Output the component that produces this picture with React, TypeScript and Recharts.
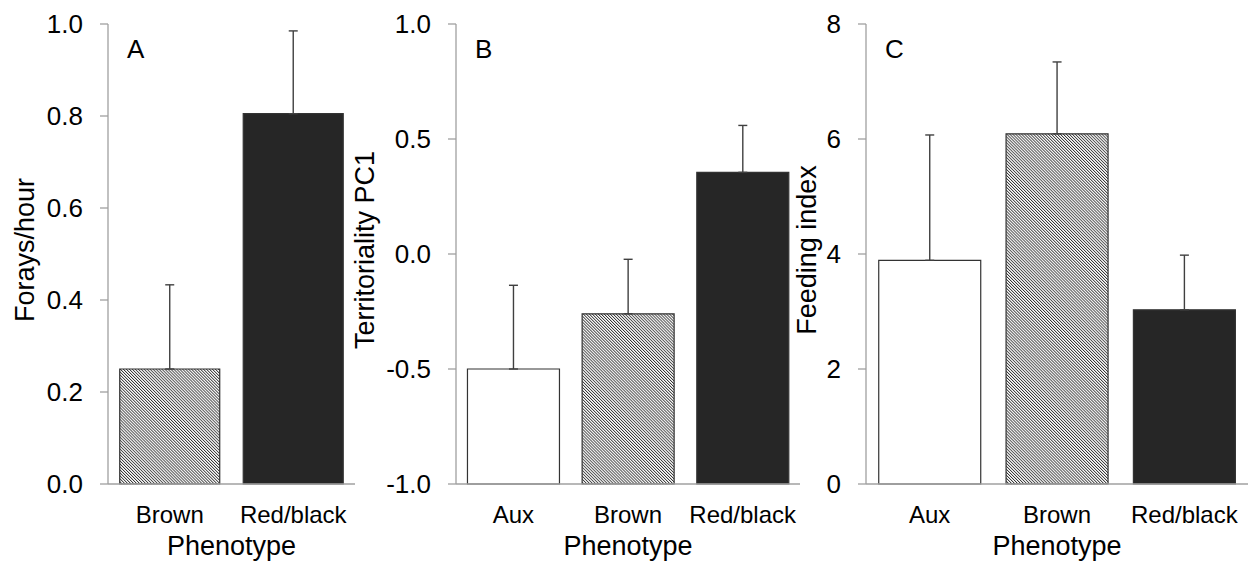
import { BarChart, Bar, XAxis, YAxis, ErrorBar, Cell, Label } from 'recharts';

// Panel A – forays
const A_CATEGORIES = ['Brown', 'Red/black'];
const A_MEANS = [0.25, 0.805];
const A_SE = [0.183, 0.18];
const A_TICKS = [0, 0.2, 0.4, 0.6, 0.8, 1.0];

// Panel B – territoriality (bars drawn up from the axis floor)
const B_CATEGORIES = ['Aux', 'Brown', 'Red/black'];
const B_MEANS = [-0.5, -0.26, 0.355];
const B_SE = [0.364, 0.237, 0.204];
const B_TICKS = [-1.0, -0.5, 0.0, 0.5, 1.0];

// Panel C – feeding
const C_CATEGORIES = ['Aux', 'Brown', 'Red/black'];
const C_MEANS = [3.89, 6.09, 3.03];
const C_SE = [2.18, 1.25, 0.95];
const C_TICKS = [0, 2, 4, 6, 8];

const FILL_BY_PHENOTYPE: Record<string, string> = {
  Aux: '#ffffff',
  Brown: 'url(#hatch)',
  'Red/black': '#262626',
};

const FONT = '"Liberation Sans", Arial, sans-serif';
const AXIS_GREY = '#a0a0a0';
const CHART_H = 567;
const MARGIN_TOP = 24;
const MARGIN_BOTTOM = 12;

interface PanelProps {
  letter: string;
  left: number;
  width: number;
  yAxisWidth: number;
  rightMargin: number;
  labelOffset: number;
  yLabel: string;
  categories: string[];
  means: number[];
  se: number[];
  ticks: number[];
  gap: string;
  decimals: number;
}

const Panel = (p: PanelProps) => {
  const floor = p.ticks[0];
  const rows = p.categories.map((name, i) => ({
    name,
    range: [floor, p.means[i]],
    err: [0, p.se[i]],
  }));
  // category boundaries, where Excel-style ticks sit
  const edges = p.categories.map((_, i) => i).concat(p.categories.length);

  return (
    <div style={{ position: 'absolute', left: p.left, top: 0 }}>
      <BarChart
        width={p.width}
        height={CHART_H}
        data={rows}
        barCategoryGap={p.gap}
        margin={{ top: MARGIN_TOP, right: p.rightMargin, bottom: MARGIN_BOTTOM, left: 0 }}
      >
        <XAxis
          xAxisId='a'
          type='number'
          domain={[0, p.categories.length]}
          ticks={edges}
          tick={false}
          tickSize={8}
          height={1}
          stroke={AXIS_GREY}
          strokeWidth={1.3}
          allowDataOverflow
        />
        <XAxis
          xAxisId='b'
          dataKey='name'
          type='category'
          axisLine={false}
          tickLine={false}
          tickSize={8}
          tickMargin={13}
          height={70}
          interval={0}
          tick={{ fill: '#000', fontSize: 24, fontFamily: FONT }}
        >
          <Label
            value='Phenotype'
            position='insideBottom'
            offset={0}
            style={{ fill: '#000', fontSize: 27, fontFamily: FONT }}
          />
        </XAxis>
        <YAxis
          type='number'
          domain={[p.ticks[0], p.ticks[p.ticks.length - 1]]}
          ticks={p.ticks}
          interval={0}
          width={p.yAxisWidth}
          tickSize={8}
          tickMargin={17}
          stroke={AXIS_GREY}
          strokeWidth={1.3}
          tickFormatter={(v: number) => v.toFixed(p.decimals)}
          tick={{ fill: '#000', fontSize: 26, fontFamily: FONT }}
        >
          <Label
            value={p.yLabel}
            angle={-90}
            position='insideLeft'
            offset={p.labelOffset}
            dy={-4}
            style={{ textAnchor: 'middle', fill: '#000', fontSize: 27, fontFamily: FONT }}
          />
        </YAxis>
        <Bar
          xAxisId='b'
          dataKey='range'
          stroke='#333'
          strokeWidth={1.2}
          isAnimationActive={false}
        >
          {rows.map((r) => (
            <Cell key={r.name} fill={FILL_BY_PHENOTYPE[r.name]} />
          ))}
          <ErrorBar
            dataKey='err'
            direction='y'
            width={4.5}
            stroke='#404040'
            strokeWidth={1.4}
            isAnimationActive={false}
          />
        </Bar>
      </BarChart>
      <div
        style={{
          position: 'absolute',
          left: p.yAxisWidth + 19,
          top: 36,
          fontSize: 26,
          lineHeight: 1,
          fontFamily: FONT,
          color: '#000',
        }}
      >
        {p.letter}
      </div>
    </div>
  );
};

export default function App() {
  return (
    <div
      style={{
        position: 'absolute',
        left: 0,
        top: 0,
        width: 1250,
        height: CHART_H,
        background: '#fff',
        overflow: 'hidden',
      }}
    >
      <svg width={0} height={0} style={{ position: 'absolute' }}>
        <defs>
          <pattern
            id='hatch'
            patternUnits='userSpaceOnUse'
            width={2.1}
            height={10}
            patternTransform='rotate(-45)'
          >
            <rect width={2.1} height={10} fill='#fff' />
            <rect width={0.85} height={10} fill='#333' />
          </pattern>
        </defs>
      </svg>
      <Panel
        letter='A'
        left={0}
        width={365}
        yAxisWidth={108}
        rightMargin={10}
        labelOffset={24}
        yLabel='Forays/hour'
        categories={A_CATEGORIES}
        means={A_MEANS}
        se={A_SE}
        ticks={A_TICKS}
        gap='9.5%'
        decimals={1}
      />
      <Panel
        letter='B'
        left={340}
        width={470}
        yAxisWidth={116}
        rightMargin={10}
        labelOffset={24}
        yLabel='Territoriality PC1'
        categories={B_CATEGORIES}
        means={B_MEANS}
        se={B_SE}
        ticks={B_TICKS}
        gap='10%'
        decimals={1}
      />
      <Panel
        letter='C'
        left={780}
        width={470}
        yAxisWidth={86}
        rightMargin={2}
        labelOffset={26}
        yLabel='Feeding index'
        categories={C_CATEGORIES}
        means={C_MEANS}
        se={C_SE}
        ticks={C_TICKS}
        gap='10%'
        decimals={0}
      />
    </div>
  );
}
